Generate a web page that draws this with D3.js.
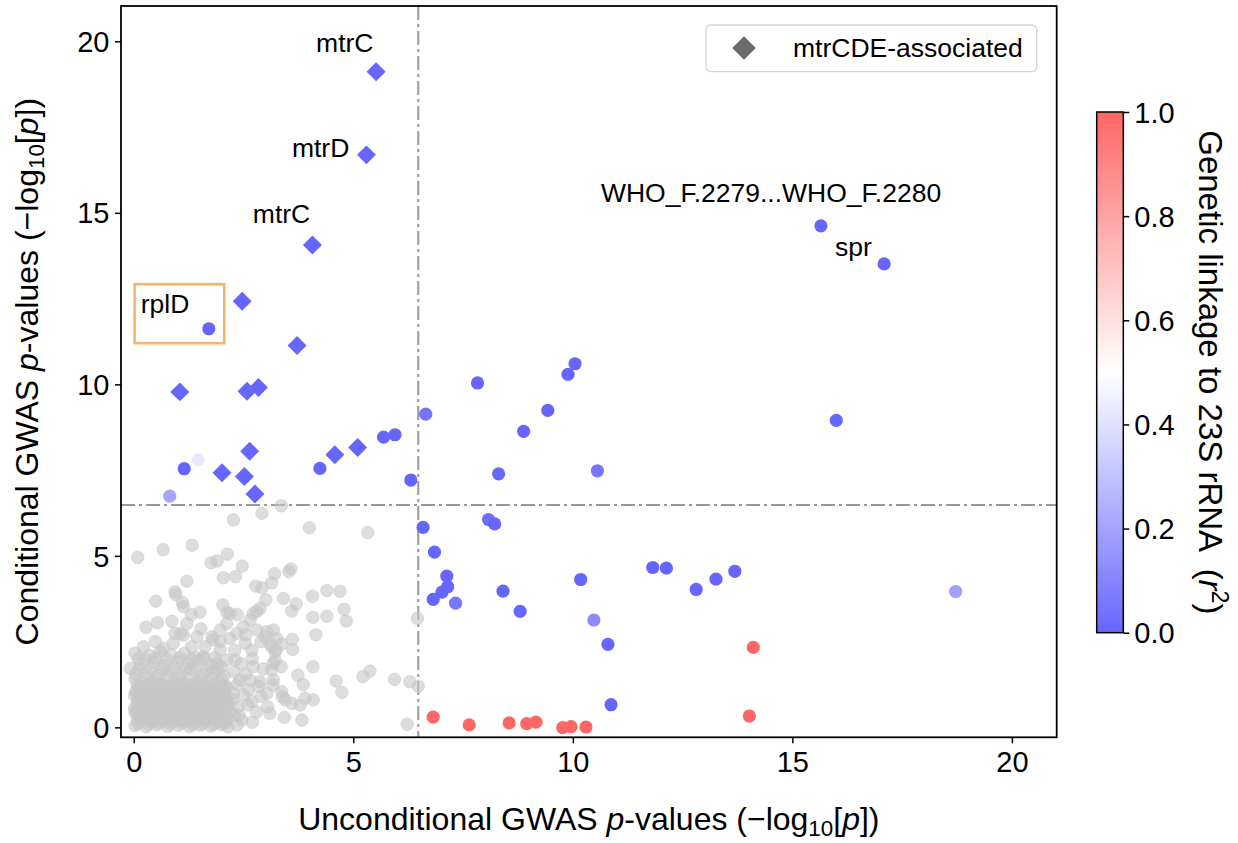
<!DOCTYPE html>
<html>
<head>
<meta charset="utf-8">
<script src="https://cdn.jsdelivr.net/npm/d3@7"></script>
<style>
  body { margin: 0; background: #fff; }
  svg { font-family: 'Liberation Sans', Arial, Helvetica, sans-serif; display: block; }
</style>
</head>
<body>
<svg id="chart"></svg>
<script>
// tick values for both axes and the colour bar
const axisTicks = [0, 5, 10, 15, 20];
const cbarTicks = [0, 0.2, 0.4, 0.6, 0.8, 1.0];
const threshold = 6.48;

// mtrCDE-associated variants (all r2 ~ 0)
const mtrcdePoints = [
  [5.52, 19.11], [5.30, 16.69], [4.07, 14.06], [2.47, 12.42], [3.72, 11.13],
  [1.05, 9.78], [2.58, 9.80], [2.84, 9.91], [2.64, 8.05], [2.01, 7.42],
  [2.52, 7.31], [2.76, 6.80], [4.58, 7.95], [5.10, 8.16]
];

// other significant variants: [unconditional, conditional, r2 to 23S rRNA]
const linkedPoints = [
  [1.71, 11.62, 0], [1.15, 7.54, 0], [1.47, 7.80, 0.43], [0.82, 6.74, 0.21],
  [4.24, 7.55, 0], [5.69, 8.46, 0], [5.95, 8.53, 0], [6.31, 7.21, 0],
  [6.65, 9.13, 0.05], [7.83, 10.04, 0], [9.89, 10.29, 0], [10.05, 10.60, 0],
  [9.43, 9.24, 0], [8.88, 8.63, 0], [8.31, 7.39, 0], [10.56, 7.48, 0.05],
  [6.59, 5.83, 0], [8.08, 6.06, 0.03], [8.22, 5.93, 0], [6.85, 5.11, 0],
  [7.13, 4.41, 0], [7.15, 4.10, 0], [7.02, 3.94, 0], [6.82, 3.73, 0],
  [7.33, 3.62, 0.06], [8.41, 3.97, 0], [8.80, 3.38, 0], [10.18, 4.31, 0],
  [10.48, 3.13, 0.12], [10.80, 2.42, 0], [10.87, 0.66, 0], [11.82, 4.66, 0],
  [12.13, 4.64, 0], [12.81, 4.02, 0], [13.26, 4.32, 0], [13.69, 4.55, 0],
  [15.65, 14.62, 0], [17.09, 13.51, 0], [16.00, 8.95, 0], [18.72, 3.96, 0.19],
  [14.11, 2.33, 1], [14.02, 0.33, 1], [6.82, 0.30, 1], [7.64, 0.07, 1],
  [8.55, 0.13, 1], [8.95, 0.11, 1], [9.16, 0.15, 1], [9.77, -0.01, 1],
  [9.96, 0.02, 1], [10.30, 0.01, 1]
];

// non-significant variants (grey)
const nullPoints = [
  [0.03, 0.05], [0.28, 0.02], [0.52, 0.08], [0.77, 0.03], [1.02, 0.06], [1.27, 0.02], [1.51, 0.07], [1.76, 0.04], [2.00, 0.08],
  [0.16, 0.18], [0.41, 0.15], [0.66, 0.19], [0.89, 0.16], [1.15, 0.18], [1.40, 0.14], [1.64, 0.19], [1.90, 0.16], [2.10, 0.17],
  [0.14, 0.31], [0.40, 0.27], [0.64, 0.33], [0.90, 0.28], [1.14, 0.32], [1.39, 0.26], [1.63, 0.30], [1.88, 0.34], [2.12, 0.28],
  [0.03, 0.43], [0.27, 0.41], [0.53, 0.44], [0.76, 0.40], [1.02, 0.43], [1.27, 0.41], [1.53, 0.44], [1.77, 0.42], [2.02, 0.40], [2.21, 0.44],
  [0.02, 0.56], [0.27, 0.53], [0.52, 0.58], [0.77, 0.52], [1.03, 0.57], [1.28, 0.55], [1.52, 0.51], [1.77, 0.58], [2.03, 0.54],
  [0.15, 0.67], [0.40, 0.69], [0.65, 0.66], [0.91, 0.68], [1.15, 0.65], [1.40, 0.69], [1.65, 0.67], [1.90, 0.66], [2.15, 0.68],
  [0.13, 0.79], [0.38, 0.83], [0.63, 0.78], [0.88, 0.81], [1.12, 0.77], [1.37, 0.84], [1.62, 0.79], [1.87, 0.82], [2.13, 0.78],
  [0.02, 0.92], [0.27, 0.94], [0.52, 0.91], [0.77, 0.93], [1.02, 0.90], [1.27, 0.94], [1.52, 0.92], [1.77, 0.91], [2.02, 0.93],
  [0.04, 1.04], [0.30, 1.07], [0.55, 1.02], [0.81, 1.08], [1.05, 1.03], [1.31, 1.06], [1.56, 1.01], [1.80, 1.07], [2.06, 1.03],
  [0.15, 1.17], [0.40, 1.19], [0.65, 1.16], [0.90, 1.18], [1.15, 1.15], [1.40, 1.19], [1.65, 1.17], [1.90, 1.16], [2.12, 1.18],
  [0.16, 1.29], [0.42, 1.33], [0.66, 1.27], [0.92, 1.31], [1.18, 1.28], [1.43, 1.34], [1.68, 1.29], [1.94, 1.32],
  [0.09, 0.11], [0.34, 0.09], [0.59, 0.12], [0.84, 0.10], [1.09, 0.12], [1.34, 0.09], [1.58, 0.11], [1.83, 0.10], [2.07, 0.12],
  [0.08, 0.24], [0.33, 0.22], [0.58, 0.25], [0.83, 0.23], [1.08, 0.24], [1.33, 0.21], [1.58, 0.25], [1.83, 0.23], [2.06, 0.22],
  [0.09, 0.37], [0.34, 0.35], [0.59, 0.38], [0.84, 0.36], [1.09, 0.37], [1.34, 0.34], [1.59, 0.38], [1.84, 0.36], [2.08, 0.35],
  [0.08, 0.49], [0.33, 0.48], [0.58, 0.50], [0.83, 0.47], [1.08, 0.50], [1.33, 0.48], [1.58, 0.49], [1.83, 0.47], [2.09, 0.50],
  [0.09, 0.62], [0.34, 0.60], [0.59, 0.63], [0.84, 0.61], [1.09, 0.62], [1.34, 0.60], [1.59, 0.63], [1.84, 0.61], [2.08, 0.62],
  [0.08, 0.74], [0.33, 0.73], [0.58, 0.75], [0.83, 0.72], [1.08, 0.75], [1.33, 0.73], [1.58, 0.74], [1.83, 0.72], [2.08, 0.74],
  [0.09, 0.87], [0.34, 0.85], [0.59, 0.88], [0.84, 0.86], [1.09, 0.87], [1.34, 0.85], [1.59, 0.88], [1.84, 0.86], [2.08, 0.87],
  [0.08, 0.99], [0.33, 0.98], [0.58, 1.00], [0.83, 0.97], [1.08, 1.00], [1.33, 0.98], [1.58, 0.99], [1.83, 0.97], [2.08, 0.99],
  [0.09, 1.12], [0.34, 1.10], [0.59, 1.13], [0.84, 1.11], [1.09, 1.12], [1.34, 1.10], [1.59, 1.13], [1.84, 1.11], [2.07, 1.12],
  [0.08, 1.24], [0.33, 1.23], [0.58, 1.25], [0.83, 1.22], [1.08, 1.25], [1.33, 1.23], [1.58, 1.24], [1.83, 1.22], [2.05, 1.24],
  [0.03, 1.42], [0.28, 1.44], [0.53, 1.41], [0.78, 1.45], [1.03, 1.42], [1.28, 1.43], [1.53, 1.40], [1.78, 1.44], [2.00, 1.41],
  [0.04, 1.56], [0.29, 1.60], [0.55, 1.52], [0.80, 1.64], [1.06, 1.55], [1.30, 1.69], [1.55, 1.54], [1.81, 1.61], [2.05, 1.50],
  [0.12, 1.70], [0.40, 1.72], [0.65, 1.69], [0.92, 1.74], [1.18, 1.70], [1.42, 1.73], [1.68, 1.68], [1.92, 1.71],
  [0.15, 1.84], [0.45, 1.90], [0.70, 1.80], [1.00, 1.91], [1.25, 1.85], [1.50, 1.96], [1.75, 1.80], [2.00, 1.76],
  [0.10, 2.00], [0.25, 1.98], [0.50, 2.02], [0.75, 1.97], [1.05, 2.03], [1.30, 1.99], [1.60, 2.01], [1.85, 2.04],
  [0.35, 2.10], [0.85, 2.12], [1.15, 2.16], [1.40, 2.05], [0.60, 2.21],
  [0.03, 2.16], [0.22, 2.35], [0.49, 2.50], [0.67, 2.30], [0.90, 2.45], [1.13, 2.69], [1.44, 2.64], [1.32, 2.35],
  [1.62, 2.35], [1.59, 2.06], [1.81, 2.55], [1.97, 2.26], [2.12, 1.96], [1.89, 1.87], [-0.08, 1.72],
  [3.36, 6.46], [2.27, 6.05], [2.92, 6.24], [4.00, 5.82], [5.33, 5.68], [0.09, 4.96], [0.67, 5.18], [1.33, 5.31],
  [1.76, 4.80], [1.90, 4.85], [2.13, 5.05], [2.47, 4.70], [2.04, 4.36], [2.32, 4.40], [1.21, 4.26], [3.21, 4.48],
  [3.14, 4.21], [2.78, 4.12], [2.92, 4.07], [3.58, 4.62], [3.53, 4.54], [0.96, 3.87], [0.50, 3.68], [1.11, 3.64],
  [1.13, 3.52], [1.51, 3.36], [1.31, 3.29], [2.03, 3.57], [2.12, 3.35], [2.36, 3.29], [3.01, 3.72], [2.88, 3.47],
  [2.80, 3.38], [3.41, 3.76], [3.70, 3.60], [3.60, 3.39], [4.07, 3.82], [4.40, 3.99], [4.70, 3.97], [4.79, 3.44],
  [4.84, 3.10], [4.08, 3.21], [4.40, 3.24], [4.15, 2.70], [0.28, 2.92], [0.54, 3.05], [0.87, 3.09], [1.53, 2.87],
  [1.21, 3.03], [1.07, 2.74], [0.94, 2.74], [1.78, 2.64], [1.97, 2.84], [2.12, 3.03], [2.19, 3.32], [2.72, 3.32],
  [2.65, 3.13], [2.50, 2.93], [2.35, 2.74], [2.19, 2.59], [1.97, 2.50], [2.80, 2.84], [3.03, 2.79], [3.18, 2.84],
  [3.26, 2.59], [3.14, 2.35], [3.22, 2.20], [3.18, 1.87], [3.14, 1.67], [3.18, 1.38], [3.17, 1.23], [2.54, 2.45],
  [2.69, 2.25], [2.72, 1.77], [2.65, 1.38], [2.61, 1.09], [2.69, 0.75], [2.80, 0.45], [3.10, 0.41], [2.46, 0.21],
  [2.31, 1.96], [2.42, 1.38], [2.27, 0.99], [2.38, 0.60], [2.15, 0.02], [2.35, 0.07], [2.99, 2.64], [3.10, 2.45],
  [3.37, 2.43], [3.61, 2.57], [3.62, 2.27], [3.36, 1.77], [4.08, 1.77], [3.74, 1.52], [3.86, 1.25], [2.88, 1.33],
  [3.03, 0.99], [3.37, 1.04], [3.45, 0.80], [3.60, 0.70], [3.79, 0.65], [3.90, 0.85], [4.09, 0.80], [4.61, 1.35],
  [4.74, 1.02], [5.22, 1.48], [5.38, 1.64], [5.94, 1.40], [6.29, 1.33], [6.48, 1.20], [6.46, 3.18], [3.43, 0.29],
  [3.83, 0.21], [6.23, 0.09], [3.39, 0.89], [0.94, 3.95], [2.45, 1.85], [2.55, 1.55], [2.35, 1.25], [2.50, 0.95],
  [2.60, 0.65], [2.40, 0.35], [2.70, 0.15], [2.85, 1.20], [2.95, 1.70], [2.70, 2.00], [2.90, 2.50], [2.55, 2.70],
  [2.90, 0.90], [3.05, 0.60], [3.24, 2.25], [3.22, 1.96], [2.28, 1.62], [2.30, 2.25], [2.25, 0.82], [2.28, 0.35]
];

// gene labels, anchored in data units
const geneLabels = [
  { text: 'mtrC', x: 5.46, y: 19.69, anchor: 'end' },
  { text: 'mtrD', x: 4.91, y: 16.64, anchor: 'end' },
  { text: 'mtrC', x: 4.02, y: 14.70, anchor: 'end' },
  { text: 'rplD', x: 0.16, y: 12.07, anchor: 'start' },
  { text: 'WHO_F.2279...WHO_F.2280', x: 10.64, y: 15.32, anchor: 'start' },
  { text: 'spr', x: 15.97, y: 13.74, anchor: 'start' }
];
const rplDBox = { x0: 0.02, x1: 2.06, y0: 11.20, y1: 12.92 };

class GwasScatter {

    constructor(_config) {
        this.config = {
            parentElement: _config.parentElement,
            containerWidth: _config.containerWidth || 1238,
            containerHeight: _config.containerHeight || 843,
            margin: _config.margin || { top: 6, right: 181.3, bottom: 105.7, left: 121 }
        }
        this.initVis();
    }

    initVis() {
        let vis = this;

        vis.width = vis.config.containerWidth - vis.config.margin.left - vis.config.margin.right;
        vis.height = vis.config.containerHeight - vis.config.margin.top - vis.config.margin.bottom;

        vis.svg = d3.select(vis.config.parentElement)
            .attr('width', vis.config.containerWidth)
            .attr('height', vis.config.containerHeight);

        vis.xScale = d3.scaleLinear()
            .domain([-0.29, 21.02])
            .range([0, vis.width]);

        vis.yScale = d3.scaleLinear()
            .domain([-0.29, 21.03])
            .range([vis.height, 0]);

        // bwr colormap at alpha 0.6 on white
        vis.colorScale = d3.scaleLinear()
            .domain([0, 0.5, 1])
            .range(['#6666ff', '#ffffff', '#ff6666']);

        vis.chart = vis.svg.append('g')
            .attr('transform', `translate(${vis.config.margin.left},${vis.config.margin.top})`);

        vis.renderVis();
        vis.renderColorbar();
    }

    renderVis() {
        let vis = this;

        // threshold lines
        const dash = '14,4,3,4';
        vis.chart.append('line')
            .attr('x1', vis.xScale(threshold)).attr('x2', vis.xScale(threshold))
            .attr('y1', 0).attr('y2', vis.height)
            .attr('stroke', '#999').attr('stroke-width', 2).attr('stroke-dasharray', dash);
        vis.chart.append('line')
            .attr('x1', 0).attr('x2', vis.width)
            .attr('y1', vis.yScale(threshold)).attr('y2', vis.yScale(threshold))
            .attr('stroke', '#999').attr('stroke-width', 2).attr('stroke-dasharray', dash);

        vis.chart.append('g').selectAll('circle')
            .data(nullPoints)
            .join('circle')
            .attr('cx', d => vis.xScale(d[0]))
            .attr('cy', d => vis.yScale(d[1]))
            .attr('r', 6.3)
            .attr('fill', '#c6c6c6').attr('fill-opacity', 0.6)
            .attr('stroke', '#c6c6c6').attr('stroke-opacity', 0.6).attr('stroke-width', 0.8);

        vis.chart.append('g').selectAll('circle')
            .data(linkedPoints)
            .join('circle')
            .attr('cx', d => vis.xScale(d[0]))
            .attr('cy', d => vis.yScale(d[1]))
            .attr('r', 6.6)
            .attr('fill', d => vis.colorScale(d[2]));

        const diamond = d3.symbol(d3.symbolSquare, 180);
        vis.chart.append('g').selectAll('path')
            .data(mtrcdePoints)
            .join('path')
            .attr('d', diamond)
            .attr('transform', d => `translate(${vis.xScale(d[0])},${vis.yScale(d[1])}) rotate(45)`)
            .attr('fill', vis.colorScale(0));

        vis.chart.append('g').selectAll('text')
            .data(geneLabels)
            .join('text')
            .attr('x', d => vis.xScale(d.x))
            .attr('y', d => vis.yScale(d.y))
            .attr('text-anchor', d => d.anchor)
            .attr('font-size', 26.5)
            .text(d => d.text);

        vis.chart.append('rect')
            .attr('x', vis.xScale(rplDBox.x0))
            .attr('y', vis.yScale(rplDBox.y1))
            .attr('width', vis.xScale(rplDBox.x1) - vis.xScale(rplDBox.x0))
            .attr('height', vis.yScale(rplDBox.y0) - vis.yScale(rplDBox.y1))
            .attr('fill', 'none')
            .attr('stroke', '#f5b36e')
            .attr('stroke-width', 2.6);

        // axes
        vis.xAxis = d3.axisBottom(vis.xScale).tickValues(axisTicks).tickSize(6).tickFormat(d3.format('d'));
        vis.yAxis = d3.axisLeft(vis.yScale).tickValues(axisTicks).tickSize(6).tickFormat(d3.format('d'));

        vis.xAxisGroup = vis.chart.append('g')
            .attr('transform', `translate(0,${vis.height})`)
            .call(vis.xAxis);
        vis.xAxisGroup.selectAll('text').attr('y', 35).attr('dy', 0);

        vis.yAxisGroup = vis.chart.append('g').call(vis.yAxis);
        vis.yAxisGroup.selectAll('text').attr('x', -11.5).attr('dy', '0.35em');

        vis.chart.selectAll('.domain').remove();
        vis.chart.selectAll('.tick line').attr('stroke', '#000').attr('stroke-width', 1.5);
        vis.chart.selectAll('.tick text')
            .attr('font-size', 29).attr('font-family', null).attr('fill', '#000');

        vis.chart.append('rect')
            .attr('width', vis.width).attr('height', vis.height)
            .attr('fill', 'none').attr('stroke', '#000').attr('stroke-width', 1.8);

        // legend
        const legend = vis.svg.append('g');
        legend.append('rect')
            .attr('x', 706).attr('y', 25).attr('width', 330.7).attr('height', 46.7).attr('rx', 5)
            .attr('fill', '#fff').attr('stroke', '#d4d4d4').attr('stroke-width', 1.3);
        legend.append('path')
            .attr('d', d3.symbol(d3.symbolSquare, 279))
            .attr('transform', 'translate(744,48) rotate(45)')
            .attr('fill', '#6b6b6b');
        legend.append('text')
            .attr('x', 793).attr('y', 56.5)
            .attr('font-size', 26.5)
            .text('mtrCDE-associated');

        // axis labels
        const xLabel = vis.svg.append('text')
            .attr('transform', `translate(${vis.config.margin.left + vis.width / 2},830)`)
            .attr('text-anchor', 'middle')
            .attr('font-size', 32);
        vis.addPLabel(xLabel, 'Unconditional GWAS ');

        const yLabel = vis.svg.append('text')
            .attr('transform', `translate(38,${vis.config.margin.top + vis.height / 2}) rotate(-90)`)
            .attr('text-anchor', 'middle')
            .attr('font-size', 32);
        vis.addPLabel(yLabel, 'Conditional GWAS ');
    }

    addPLabel(sel, prefix) {
        sel.append('tspan').text(prefix);
        sel.append('tspan').attr('font-style', 'italic').text('p');
        sel.append('tspan').text('-values (\u2212log');
        sel.append('tspan').attr('font-size', '0.7em').attr('dy', 6).text('10');
        sel.append('tspan').attr('dy', -6).text('[');
        sel.append('tspan').attr('font-style', 'italic').text('p');
        sel.append('tspan').text('])');
    }

    renderColorbar() {
        let vis = this;

        const cb = { x: 1096.7, y: 112, w: 26.6, h: 520.7 };
        const cbScale = d3.scaleLinear().domain([0, 1]).range([cb.y + cb.h, cb.y]);

        const grad = vis.svg.append('defs').append('linearGradient')
            .attr('id', 'cbar-grad')
            .attr('x1', 0).attr('y1', 1).attr('x2', 0).attr('y2', 0);
        grad.selectAll('stop')
            .data([0, 0.25, 0.5, 0.75, 1])
            .join('stop')
            .attr('offset', d => d)
            .attr('stop-color', d => vis.colorScale(d));

        vis.svg.append('rect')
            .attr('x', cb.x).attr('y', cb.y).attr('width', cb.w).attr('height', cb.h)
            .attr('fill', 'url(#cbar-grad)')
            .attr('stroke', '#000').attr('stroke-width', 1.5);

        const cbAxis = vis.svg.append('g')
            .attr('transform', `translate(${cb.x + cb.w},0)`)
            .call(d3.axisRight(cbScale).tickValues(cbarTicks).tickSize(6).tickFormat(d3.format('.1f')));
        cbAxis.select('.domain').remove();
        cbAxis.selectAll('.tick line').attr('stroke', '#000').attr('stroke-width', 1.5);
        cbAxis.selectAll('.tick text')
            .attr('x', 11).attr('dy', '0.35em')
            .attr('font-size', 29).attr('font-family', null).attr('fill', '#000');

        const cbLabel = vis.svg.append('text')
            .attr('transform', `translate(1199,${cb.y + cb.h / 2}) rotate(90)`)
            .attr('text-anchor', 'middle')
            .attr('font-size', 33)
            .style('white-space', 'pre');
        cbLabel.append('tspan').text('Genetic linkage to 23S rRNA  (');
        cbLabel.append('tspan').attr('font-style', 'italic').text('r');
        cbLabel.append('tspan').attr('font-size', '0.7em').attr('dy', -13).text('2');
        cbLabel.append('tspan').attr('dy', 13).text(')');
    }
}

new GwasScatter({ parentElement: '#chart' });
</script>
</body>
</html>
